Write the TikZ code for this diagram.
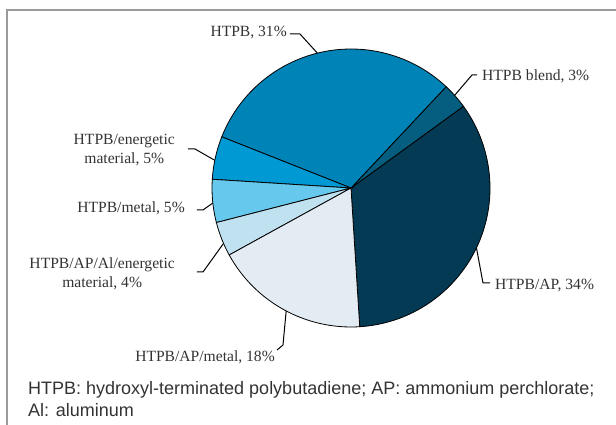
\documentclass[tikz,border=0pt]{standalone}
\usepackage{fontspec}
\setmainfont{Liberation Serif}
\setsansfont{Liberation Sans}
\usepackage{tikz}

\definecolor{cap34}{HTML}{053A55}
\definecolor{cblend}{HTML}{055E80}
\definecolor{chtpb}{HTML}{0084B8}
\definecolor{cener}{HTML}{0099D3}
\definecolor{cmetal}{HTML}{66C8EC}
\definecolor{calen}{HTML}{BFE1F0}
\definecolor{capmet}{HTML}{E3ECF3}
\definecolor{txtgray}{HTML}{333333}
\definecolor{framegray}{HTML}{9A9A9A}

\begin{document}
\begin{tikzpicture}[x=1pt, y=1pt,
    slice/.style={draw=black, line width=0.8pt},
    leader/.style={draw=black, line width=1pt},
    lbl/.style={text=txtgray, inner sep=0pt, align=center,
        font=\fontsize{15.6}{19}\selectfont},
    capt/.style={text=txtgray, inner sep=0pt, font=\sffamily\fontsize{18}{22}\selectfont}]
            \useasboundingbox (-351, -237) rectangle (265, 188);
            \draw[framegray, line width=1.2pt] (-344, -237) -- (-344, 178) -- (265, 178);

            \coordinate (c) at (0, 0);
            \filldraw[slice, fill=cap34] (c) -- (-86.4:139pt) arc[start angle=-86.4, end angle=36, radius=139pt] -- cycle;
            \filldraw[slice, fill=cblend] (c) -- (36:139pt) arc[start angle=36, end angle=46.8, radius=139pt] -- cycle;
            \filldraw[slice, fill=chtpb] (c) -- (46.8:139pt) arc[start angle=46.8, end angle=158.4, radius=139pt] -- cycle;
            \filldraw[slice, fill=cener] (c) -- (158.4:139pt) arc[start angle=158.4, end angle=176.4, radius=139pt] -- cycle;
            \filldraw[slice, fill=cmetal] (c) -- (176.4:139pt) arc[start angle=176.4, end angle=194.4, radius=139pt] -- cycle;
            \filldraw[slice, fill=calen] (c) -- (194.4:139pt) arc[start angle=194.4, end angle=208.8, radius=139pt] -- cycle;
            \filldraw[slice, fill=capmet] (c) -- (208.8:139pt) arc[start angle=208.8, end angle=273.6, radius=139pt] -- cycle;

            % points on the rim
            \coordinate (e31) at (104:139pt);
            \coordinate (eblend) at (41.8:139pt);
            \coordinate (eap) at (-25.5:139pt);
            \coordinate (eapmet) at (242.2:139pt);
            \coordinate (ealen) at (203.5:139pt);
            \coordinate (emet) at (186.2:139pt);
            \coordinate (eener) at (168.5:139pt);

            \node[lbl, anchor=east] (l31) at (-64, 155) {HTPB, 31\%};
            \node[lbl, anchor=west] (lblend) at (131, 112) {HTPB blend, 3\%};
            \node[lbl, anchor=west] (lap) at (144, -98) {HTPB/AP, 34\%};
            \node[lbl, anchor=east] (lapmet) at (-76, -169) {HTPB/AP/metal, 18\%};
            \node[lbl, anchor=east] (lalen) at (-176, -86) {HTPB/AP/Al/energetic\\material, 4\%};
            \node[lbl, anchor=east] (lmet) at (-166, -20) {HTPB/metal, 5\%};
            \node[lbl, anchor=east] (lener) at (-176, 38) {HTPB/energetic\\material, 5\%};

            \draw[leader] ([xshift=3pt, yshift=-1pt]l31.east) -- ++(10, 0) -- (e31);
            \draw[leader] ([xshift=-5pt, yshift=1pt]lblend.west) -- ++(-5, 0) -- (eblend);
            \draw[leader] ([xshift=-5pt, yshift=3pt]lap.west) -- ++(-7, 0) -- (eap);
            \draw[leader] ([shift={(2, 7)}]lapmet.east) -- ++(6, 5) -- (eapmet);
            \draw[leader] ([xshift=22pt, yshift=2pt]lalen.east) -- ++(6, 0) -- (ealen);
            \draw[leader] ([xshift=12pt, yshift=-2pt]lmet.east) -- ++(6, 0) -- (emet);
            \draw[leader] ([xshift=13pt, yshift=1pt]lener.east) -- ++(7, 0) -- (eener);

            \node[capt, anchor=base west] (cap1) at (-323, -207) {HTPB: hydroxyl-terminated polybutadiene; AP: ammonium perchlorate;};
            \node[capt, anchor=base west] (cap2) at (-323, -229) {Al: aluminum};
\end{tikzpicture}
\end{document}
